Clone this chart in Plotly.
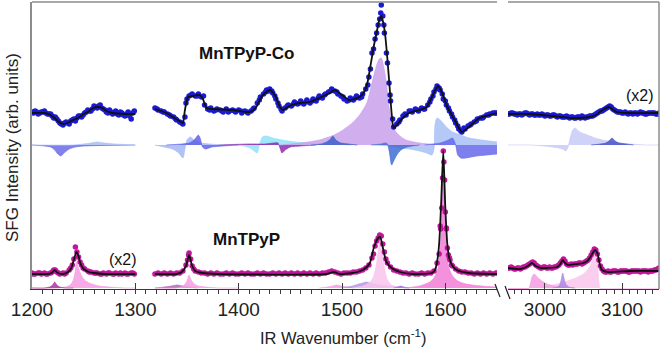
import plotly.graph_objects as go

# ------------------------------------------------------------------ DATA
# Values are SFG intensities (arb. units) relative to each trace's own baseline.

# ---- MnTPyP-Co (top) : measured points
co_l1_start, co_l1_step = 1200, 3
co_l1_pts = [1, 2, -1, 1, 2, -1, -1, -5, -6, -10, -12, -9, -11, -7, -8, -3, -4, 0,
             3, 2, 7, 5, 8, 4, 1, 3, -1, 2, -2, 0, -3, 1, -6, 2]
co_l1_extra_start = 1201.5
co_l1_extra = [0, 1, 0, 1, 0, -1, -3, -4, -8, -11, -10, -10, -8, -6, -5, -3, -2, 1, 2, 4,
               6, 7, 5, 3, 0, 1, 0, -1, 1, -2, -1, -3, 0]
co_l2_start, co_l2_step = 1319, 3
co_l2_pts = [5, 3, 2, 1, -1, -3, -4, -7, -9, -11, 10, 17, 19, 17, 19, 16, 8, 4, 5, 2,
             4, 3, 1, 4, 2, 3, 1, 3, 0, 2, 0, 2, 5, 10, 16, 19, 23, 24, 20, 14,
             7, 2, 5, 8, 7, 11, 9, 12, 9, 13, 10, 14, 12, 17, 15, 19, 21, 24, 22, 19,
             17, 14, 12, 15, 13, 17, 15, 19, 24, 36, 60, 74, 88, 108, 80, 50, 12, -14, -11, -7,
             -3, -2, 2, 1, 4, 2, 5, 4, 8, 14, 21, 27, 23, 14, 8, 2, -4, -10, -16, -19,
             -16, -13, -11, -9, -6, -5, -4, -2, -1, 0, 0]
# additional points recorded in between (intermediate wavenumbers)
co_l2_extra_x = [1321, 1327, 1333, 1339, 1345, 1348, 1350, 1354, 1360, 1366, 1372, 1378, 1384, 1390, 1396,
                 1402, 1408, 1414, 1420, 1426, 1429, 1432, 1435, 1438, 1441, 1447, 1453, 1459, 1465, 1471,
                 1477, 1483, 1489, 1495, 1501, 1507, 1513, 1519, 1525, 1527.5, 1530.5, 1533.5, 1536.5,
                 1537.5, 1539.5, 1540.5, 1543, 1545.5, 1546.5, 1549, 1555, 1561, 1567, 1573, 1579, 1585,
                 1588, 1591, 1594, 1597, 1600, 1603, 1606, 1609, 1612, 1615, 1618, 1624, 1630, 1636, 1642, 1648]
co_l2_extra_y = [4, 1, -2, -6, -10, -4, 14, 18, 17, 17, 3, 3, 2, 1, 2,
                 2, 1, 4, 13, 21, 22, 22, 17, 10, 4, 7, 9, 10, 11, 12,
                 15, 18, 22, 21, 16, 13, 15, 16, 28, 44, 64, 80, 94,
                 100, 97, 88, 60, 30, 18, -6, -9, -1, 2, 3, 4, 11,
                 17, 24, 25, 19, 12, 5, -1, -7, -13, -18, -15, -12, -8, -5, -2, 0]
co_r_start, co_r_step = 2952, 4
co_r_pts = [-1, 0, -1, -2, -1, -1, 0, -2, -1, -2, -2, -1, -3, -2, -3, -2, -4, -3, -4, -3,
            -5, -4, -5, -4, -3, -5, -4, -3, -2, 0, 2, 3, 5, 7, 4, 2, 1, 0, 1, -1,
            0, 0, -1, 1, 0, -1, 0, 0, -1, 0]
co_r_extra_start = 2954
co_r_extra = [-1, 0, -1, -1, -2, 0, -1, -1, -2, -1, -2, -2, -2, -3, -2, -3, -3, -4, -4, -4,
              -4, -5, -4, -5, -4, -4, -3, -3, -1, 1, 2, 4, 6, 6, 3, 1, 1, 0, 0, 0,
              -1, 0, 0, 0, -1, 0, 0, 0, -1]

# ---- MnTPyP-Co : fit
co_fit_l1_x = [1200, 1212, 1218, 1222, 1226, 1230, 1234, 1240, 1246, 1250, 1254, 1259, 1264, 1268, 1272, 1278, 1290, 1300]
co_fit_l1_y = [0, 0, -2, -5, -9, -11, -10, -7, -4, -1, 1, 5, 6, 5, 2, 0, -1, -1]
co_fit_l2_x = [1319, 1330, 1338, 1344, 1346, 1348, 1351, 1356, 1362, 1365, 1369, 1375, 1394, 1411, 1417, 1422, 1430,
               1435, 1440, 1443, 1449, 1459, 1469, 1478, 1488, 1493, 1500, 1507, 1517, 1522, 1525, 1528, 1531,
               1534, 1536, 1538, 1540, 1542, 1544, 1546, 1548, 1550, 1553, 1557, 1565, 1575, 1582, 1587, 1593,
               1597, 1602, 1609, 1616, 1625, 1633, 1643, 1650]
co_fit_l2_y = [4, 0, -5, -9, -10, 3, 16, 17, 18, 15, 5, 4, 3, 1, 6, 16, 23,
               18, 6, 3, 7, 10, 11, 15, 20, 23, 18, 13, 16, 22, 32, 50, 68,
               83, 93, 97, 90, 76, 53, 27, 0, -15, -12, -7, 0, 3, 6, 16, 27,
               20, 6, -7, -19, -12, -5, -2, 0]
co_fit_r_x = [2952, 2980, 3010, 3036, 3058, 3066, 3071, 3077, 3083, 3089, 3093, 3106, 3148]
co_fit_r_y = [-1, -1, -3, -5, -4, -2, 1, 4, 6, 3, 1, 0, 0]

# ---- MnTPyP (bottom) : measured points
mn_l1_start, mn_l1_step = 1200, 3
mn_l1_pts = [1, 0, 1, 0, 1, 0, 1, 4, 2, 0, 1, 1, 4, 9, 27, 17, 9, 5, 3, 2,
             1, 1, 0, 1, 0, 1, 0, 1, 0, 0, 1, 0, 1, 0]
mn_l1_extra_x = [1201.5, 1207.5, 1213.5, 1219.5, 1222.5, 1225.5, 1231.5, 1237.5, 1240.5, 1243.5, 1246.5,
                 1249.5, 1255.5, 1261.5, 1267.5, 1273.5, 1279.5, 1285.5, 1291.5, 1297.5]
mn_l1_extra_y = [0, 1, 0, 2, 4, 1, 0, 6, 15, 22, 12, 6, 2, 1, 0, 1, 0, 1, 0, 1]
mn_l2_start, mn_l2_step = 1319, 3
mn_l2_pts = [0, 1, 0, 1, 0, 1, 0, 1, 1, 3, 9, 21, 8, 3, 2, 1, 1, 0, 1, 0,
             1, 0, 0, 1, 0, 1, 0, 0, 1, 0, 1, 0, 0, 1, 0, 1, 0, 0, 1, 0,
             1, 0, 1, 0, 1, 0, 1, 0, 1, 0, 1, 0, 1, 0, 1, 1, 2, 3, 2, 1,
             0, 1, 1, 1, 2, 2, 3, 4, 6, 9, 16, 28, 36, 38, 22, 11, 7, 4, 3, 2,
             1, 1, 0, 1, 0, 0, 1, 0, 1, 1, 3, 11, 48, 123, 45, 16, 8, 5, 3, 2,
             2, 1, 1, 0, 1, 0, 1, 0, 1, 0, 1]
mn_l2_extra_x = [1350.5, 1351.5, 1353.5, 1356.5, 1530.5, 1533.5, 1536.5, 1539.5, 1542.5, 1594, 1595.5,
                 1596.5, 1597.3, 1598.6, 1599.3, 1600, 1601, 1602, 1603, 1604.5, 1606]
mn_l2_extra_y = [14, 19, 15, 5, 20, 33, 39, 30, 15, 20, 45,
                 66, 96, 112, 94, 62, 46, 26, 19, 14, 9]
mn_r_start, mn_r_step = 2952, 4
mn_r_pts = [6, 7, 5, 6, 5, 7, 8, 10, 12, 9, 7, 6, 7, 6, 6, 7, 8, 11, 15, 10,
            9, 9, 10, 11, 10, 12, 14, 19, 25, 20, 8, 3, 2, 2, 3, 3, 2, 3, 3, 2,
            3, 3, 3, 2, 3, 3, 3, 3, 4, 6]
mn_r_extra_start = 2954
mn_r_extra = [6, 6, 5, 6, 6, 7, 9, 11, 11, 8, 6, 7, 6, 7, 6, 7, 9, 13, 13, 9,
              10, 10, 10, 11, 11, 13, 16, 22, 24, 14, 5, 2, 3, 2, 3, 2, 3, 3, 3, 2,
              3, 3, 3, 3, 3, 2, 3, 4, 5]

# ---- MnTPyP : fit
mn_fit_l1_x = [1200, 1215, 1219, 1222, 1225, 1230, 1235, 1238, 1241, 1243, 1245, 1247, 1250, 1255, 1260, 1270, 1300]
mn_fit_l1_y = [0, 0, 1, 4, 1, 0, 2, 6, 16, 22, 18, 10, 5, 2, 1, 0, 0]
mn_fit_l2_x = [1319, 1340, 1345, 1349, 1352, 1355, 1358, 1365, 1380, 1485, 1492, 1498, 1510, 1515, 1520, 1524, 1527,
               1531, 1535, 1537, 1539, 1543, 1548, 1556, 1568, 1587, 1590, 1592, 1594, 1596, 1598, 1600, 1602,
               1604, 1607, 1611, 1623, 1650]
mn_fit_l2_y = [0, 0, 2, 8, 19, 8, 3, 1, 0, 0, 2, 0, 1, 2, 4, 7, 11,
               27, 36, 37, 29, 12, 6, 2, 0, 1, 4, 12, 30, 72, 123, 66, 29,
               15, 8, 4, 1, 0]
mn_fit_r_x = [2952, 2968, 2978, 2983, 2988, 2995, 3003, 3016, 3020, 3023, 3026, 3030, 3042, 3050, 3055, 3059,
              3062, 3065, 3068, 3071, 3074, 3081, 3110, 3148]
mn_fit_r_y = [6, 5, 8, 11, 8, 6, 6, 7, 10, 14, 11, 9, 10, 11, 13, 17,
              21, 24, 21, 10, 4, 2, 3, 3]

# ---- fitted resonance components (segment, wavenumber list, amplitude list, colour)
co_components = [
    ("l", [1200, 1212, 1218, 1222, 1225, 1228, 1231, 1236, 1242, 1250, 1300],
          [0, -1, -2, -5, -9, -11, -8, -4, -2, -1, 0], "#6b6bea"),
    ("l", [1200, 1240, 1250, 1257, 1263, 1270, 1280, 1300],
          [0, 0, 1, 2, 3, 2, 1, 0], "#a9bdf6"),
    ("l", [1395, 1405, 1411, 1415, 1418, 1420, 1423, 1427, 1433, 1442, 1455, 1470, 1490, 1510],
          [0, -1, -3, -6, -8, 0, 8, 9, 7, 5, 3, 2, 1, 0], "#8fe3f8"),
    ("l", [1380, 1410, 1425, 1434, 1438, 1440, 1442, 1445, 1450, 1460, 1475],
          [0, 1, 1, 2, 2, -3, -8, -5, -2, -1, 0], "#8b2fb2"),
    ("l", [1319, 1328, 1336, 1342, 1346, 1348, 1350, 1353, 1357, 1363, 1372, 1385],
          [0, -2, -4, -8, -13, -4, 5, 8, 5, 2, 1, 0], "#a3b8f5"),
    ("l", [1330, 1345, 1352, 1357, 1361, 1363, 1365, 1368, 1374, 1385, 1400],
          [0, 1, 2, 5, 10, 6, -2, -4, -2, -1, 0], "#6262ea"),
    ("l", [1440, 1460, 1478, 1490, 1498, 1505, 1510, 1517, 1524, 1529, 1533, 1536, 1538, 1540, 1543, 1546,
           1551, 1556, 1562, 1575, 1600],
          [0, 2, 5, 9, 13, 18, 22, 30, 42, 62, 78, 86, 87, 80, 62, 35, 15, 9, 5, 2, 0], "#c9a0ea"),
    ("l", [1470, 1480, 1485, 1489, 1491, 1494, 1499, 1506, 1515],
          [0, 1, 3, 6, 9, 5, 2, 1, 0], "#3e60c8"),
    ("l", [1530, 1545, 1555, 1565, 1575, 1582, 1587, 1589, 1590, 1592, 1596, 1601, 1607, 1615, 1623, 1635, 1650],
          [0, -1, -3, -4, -6, -8, -10, -4, 20, 27, 24, 18, 13, 10, 7, 5, 3], "#a8c0f6"),
    ("l", [1528, 1538, 1542, 1544, 1546, 1548, 1550, 1553, 1557, 1563, 1575],
          [0, 1, 2, 1, -8, -20, -16, -10, -5, -2, 0], "#3f6ed4"),
    ("l", [1580, 1595, 1603, 1607, 1610, 1612, 1615, 1620, 1630, 1640, 1650],
          [0, 2, 5, 7, 0, -10, -13, -13, -11, -10, -9], "#6767ec"),
    ("r", [2952, 2980, 3000, 3010, 3018, 3023, 3027, 3030, 3033, 3036, 3039, 3045, 3055, 3065, 3075, 3090,
           3110, 3130, 3148],
          [0, 0, -1, -2, -3, -4, -6, -2, 8, 15, 17, 13, 10, 7, 5, 3, 1, 0, 0], "#c8caf6"),
    ("r", [3060, 3072, 3079, 3083, 3087, 3091, 3096, 3105, 3115],
          [0, 1, 2, 4, 7, 4, 2, 1, 0], "#4a55c8"),
]
mn_components = [
    ("l", [1200, 1225, 1232, 1237, 1240, 1242, 1243, 1245, 1248, 1252, 1258, 1265, 1275, 1290, 1300],
          [0, 0, 1, 3, 8, 18, 26, 20, 12, 7, 4, 2, 1, 0, 0], "#f59ce2"),
    ("l", [1200, 1212, 1217, 1220, 1222, 1224, 1227, 1232, 1240],
          [0, 0, 1, 3, 6, 3, 1, 0, 0], "#a7389c"),
    ("l", [1319, 1328, 1335, 1340, 1346, 1352, 1360],
          [0, 1, 2, 3, 2, 1, 0], "#b565b5"),
    ("l", [1319, 1340, 1346, 1349, 1351, 1352, 1354, 1357, 1361, 1368, 1380, 1400],
          [0, 0, 2, 5, 10, 13, 8, 4, 2, 1, 0, 0], "#f59ce2"),
    ("l", [1478, 1486, 1491, 1495, 1499, 1505, 1512],
          [0, 1, 2, 3, 2, 1, 0], "#f59ce2"),
    ("l", [1500, 1510, 1516, 1520, 1523, 1528, 1535, 1545, 1555, 1565],
          [0, 2, 4, 5, 6, 5, 3, 2, 1, 0], "#b596e6"),
    ("l", [1510, 1520, 1526, 1530, 1533, 1535, 1537, 1539, 1541, 1544, 1548, 1555, 1565],
          [0, 2, 5, 10, 22, 36, 48, 40, 20, 8, 3, 1, 0], "#f9c3ec"),
    ("l", [1550, 1554, 1557, 1560, 1565],
          [0, 1, 2, 1, 0], "#9a78dc"),
    ("l", [1560, 1575, 1585, 1589, 1593, 1596, 1598, 1600, 1603, 1607, 1612, 1620, 1635, 1650],
          [0, 2, 6, 10, 20, 55, 128, 62, 22, 12, 7, 4, 2, 1], "#f27ed6"),
    ("r", [2995, 3010, 3025, 3040, 3050, 3057, 3062, 3066, 3068, 3070, 3072, 3080, 3100, 3120, 3148],
          [1, 3, 6, 10, 14, 20, 28, 36, 26, 6, -2, -2, -2, -2, -2], "#f9c6ec"),
    ("r", [2952, 2962, 2972, 2978, 2981, 2983, 2986, 2990, 2996, 3003, 3012, 3025, 3040],
          [-1, -2, -3, -2, 4, 11, 14, 11, 7, 4, 2, 1, 0], "#f59ce2"),
    ("r", [3010, 3016, 3019, 3021, 3023, 3025, 3027, 3031, 3038],
          [0, 1, 3, 8, 15, 9, 4, 1, 0], "#ad86e2"),
]

left_ticks = [1200, 1300, 1400, 1500, 1600]
right_ticks = [3000, 3100]

# ------------------------------------------------------------------ STYLE / LAYOUT
CO_OFFSET = 176   # vertical stacking of the MnTPyP-Co spectrum
MN_OFFSET = 15    # vertical stacking of the MnTPyP spectrum
FONT = "Liberation Sans, Arial, sans-serif"
D1 = (497 - 32) / 627
D2 = (508 - 32) / 627
XA = {"l": "x", "r": "x2"}


def rgba(hexcol, a):
    h = hexcol.lstrip("#")
    return "rgba(%d,%d,%d,%.2f)" % (int(h[0:2], 16), int(h[2:4], 16), int(h[4:6], 16), a)


def px(xp):
    return (xp - 32) / 627


def py(yp):
    return (289 - yp) / 287


fig = go.Figure()

# components: top ones on axis 'y' (zero = top component baseline), bottom on 'y3'
for seg, xs, vs, col in co_components:
    fig.add_trace(go.Scatter(x=xs, y=vs, xaxis=XA[seg], yaxis="y", mode="lines",
                             line=dict(color=rgba(col, 0.9), width=0.7, shape="spline", smoothing=0.7),
                             fill="tozeroy", fillcolor=rgba(col, 0.85), hoverinfo="skip", showlegend=False))
for seg, xs, vs, col in mn_components:
    fig.add_trace(go.Scatter(x=xs, y=vs, xaxis=XA[seg], yaxis="y3", mode="lines",
                             line=dict(color=rgba(col, 0.9), width=0.7, shape="spline", smoothing=0.7),
                             fill="tozeroy", fillcolor=rgba(col, 0.85), hoverinfo="skip", showlegend=False))

BLUE = "#1a1ad2"
MAG = "#c2159c"


def add_xy_points(seg, xs, ys, off, col):
    fig.add_trace(go.Scatter(x=xs, y=[p + off for p in ys], xaxis=XA[seg], yaxis="y4", mode="markers",
                             marker=dict(size=5.5, color=col, line=dict(width=0)),
                             hoverinfo="skip", showlegend=False))


def add_points(seg, start, step, pts, off, col):
    add_xy_points(seg, [start + step * i for i in range(len(pts))], pts, off, col)


def add_fit(seg, xs, ys, off):
    fig.add_trace(go.Scatter(x=xs, y=[v + off for v in ys], xaxis=XA[seg], yaxis="y4", mode="lines",
                             line=dict(color="#111111", width=1.8, shape="spline", smoothing=0.6),
                             hoverinfo="skip", showlegend=False))


add_points("l", co_l1_start, co_l1_step, co_l1_pts, CO_OFFSET, BLUE)
add_points("l", co_l1_extra_start, co_l1_step, co_l1_extra, CO_OFFSET, BLUE)
add_points("l", co_l2_start, co_l2_step, co_l2_pts, CO_OFFSET, BLUE)
add_xy_points("l", co_l2_extra_x, co_l2_extra_y, CO_OFFSET, BLUE)
add_points("r", co_r_start, co_r_step, co_r_pts, CO_OFFSET, BLUE)
add_points("r", co_r_extra_start, co_r_step, co_r_extra, CO_OFFSET, BLUE)
add_points("l", mn_l1_start, mn_l1_step, mn_l1_pts, MN_OFFSET, MAG)
add_xy_points("l", mn_l1_extra_x, mn_l1_extra_y, MN_OFFSET, MAG)
add_points("l", mn_l2_start, mn_l2_step, mn_l2_pts, MN_OFFSET, MAG)
add_xy_points("l", mn_l2_extra_x, mn_l2_extra_y, MN_OFFSET, MAG)
add_points("r", mn_r_start, mn_r_step, mn_r_pts, MN_OFFSET, MAG)
add_points("r", mn_r_extra_start, mn_r_step, mn_r_extra, MN_OFFSET, MAG)

add_fit("l", co_fit_l1_x, co_fit_l1_y, CO_OFFSET)
add_fit("l", co_fit_l2_x, co_fit_l2_y, CO_OFFSET)
add_fit("r", co_fit_r_x, co_fit_r_y, CO_OFFSET)
add_fit("l", mn_fit_l1_x, mn_fit_l1_y, MN_OFFSET)
add_fit("l", mn_fit_l2_x, mn_fit_l2_y, MN_OFFSET)
add_fit("r", mn_fit_r_x, mn_fit_r_y, MN_OFFSET)

xcommon = dict(showline=True, linecolor="#3a3a3a", linewidth=1, showgrid=False, zeroline=False,
               ticks="inside", ticklen=6, tickwidth=1, tickcolor="#3a3a3a",
               tickfont=dict(family=FONT, size=19, color="#222222"), ticklabelstandoff=3,
               anchor="y", fixedrange=True)


def note(text, xp, yp, size, bold=False, color="#111111", angle=0):
    f = dict(family=FONT, size=size, color=color)
    if bold:
        f["weight"] = "bold"
    return dict(text=text, xref="paper", yref="paper", x=px(xp), y=py(yp), xanchor="center",
                yanchor="middle", showarrow=False, font=f, textangle=angle)


fig.update_layout(
    width=663, height=351,
    margin=dict(l=32, r=4, t=2, b=62),
    paper_bgcolor="white", plot_bgcolor="white",
    showlegend=False,
    xaxis=dict(domain=[0, D1], range=[1200, 1650], tickvals=left_ticks,
               minor=dict(tick0=1200, dtick=10, ticks="outside", ticklen=4, tickcolor="#3a3a3a"),
               **xcommon),
    xaxis2=dict(domain=[D2, 1], range=[2952, 3148], tickvals=right_ticks,
                minor=dict(tick0=3000, dtick=10, ticks="outside", ticklen=4, tickcolor="#3a3a3a"),
                **xcommon),
    yaxis=dict(range=[-144, 143], showline=True, linecolor="#8c8c8c", linewidth=1.5,
               showticklabels=False, ticks="", showgrid=False, zeroline=False, anchor="x", fixedrange=True),
    yaxis3=dict(range=[-1, 286], overlaying="y", visible=False, fixedrange=True),
    yaxis4=dict(range=[0, 287], overlaying="y", visible=False, fixedrange=True),
    annotations=[
        note("MnTPyP-Co", 246, 54, 17, bold=True),
        note("MnTPyP", 246, 239, 17, bold=True),
        note("(x2)", 640, 95, 16),
        note("(x2)", 123, 259, 16),
        note("IR Wavenumber (cm<sup>-1</sup>)", 343, 337, 16.5, color="#222222"),
        note("SFG Intensity (arb. units)", 12, 148, 17, color="#222222", angle=-90),
    ],
    shapes=[
        dict(type="line", xref="paper", yref="paper", x0=0, x1=D1, y0=1, y1=1,
             line=dict(color="#8c8c8c", width=1.5)),
        dict(type="line", xref="paper", yref="paper", x0=D2, x1=1, y0=1, y1=1,
             line=dict(color="#8c8c8c", width=1.5)),
        dict(type="line", xref="paper", yref="paper", x0=1, x1=1, y0=0, y1=1,
             line=dict(color="#8c8c8c", width=1.5)),
        dict(type="line", xref="paper", yref="paper", x0=px(495), x1=px(500), y0=py(284), y1=py(297),
             line=dict(color="#222222", width=1.2)),
        dict(type="line", xref="paper", yref="paper", x0=px(505), x1=px(510), y0=py(286), y1=py(299),
             line=dict(color="#222222", width=1.2)),
    ],
)

fig.write_html("out.html", config={"displayModeBar": False},
               post_script="document.body.style.margin='0';document.body.style.padding='0';")
